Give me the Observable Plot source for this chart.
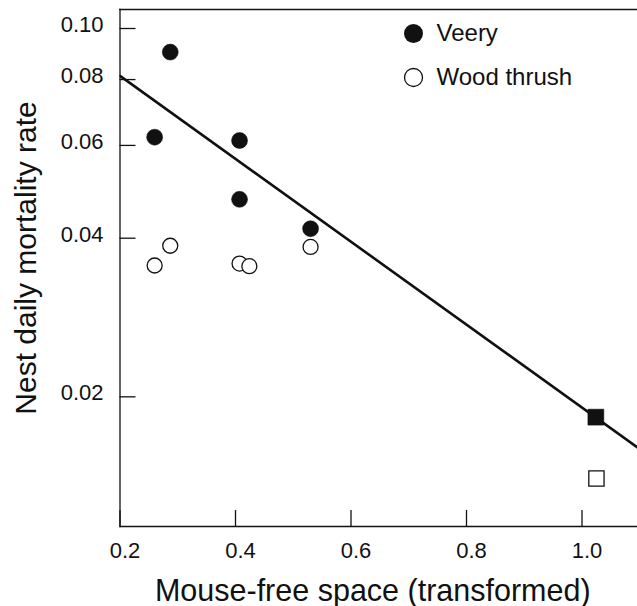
<!DOCTYPE html>
<html>
<head>
<meta charset="utf-8">
<script src="https://cdn.jsdelivr.net/npm/d3@7"></script>
<script src="https://cdn.jsdelivr.net/npm/@observablehq/plot@0.6"></script>
<style>
  html, body { margin: 0; padding: 0; background: #fff; }
  svg { display: block; }
</style>
</head>
<body>
<div id="chart"></div>
<script>
// ---- data ----
const veeryX  = [0.287, 0.260, 0.407, 0.407, 0.530];
const veeryY  = [0.0902, 0.0622, 0.0613, 0.0474, 0.0417];
const thrushX = [0.287, 0.260, 0.407, 0.424, 0.530];
const thrushY = [0.0387, 0.0355, 0.0358, 0.0354, 0.0385];
const veerySqX = [1.024];
const veerySqY = [0.0183];
const thrushSqX = [1.025];
const thrushSqY = [0.0140];
const fitX = [0.2, 1.1];
const fitY = [0.0813, 0.01592];
const xTicks = [0.2, 0.4, 0.6, 0.8, 1.0];
const yTicks = [0.02, 0.04, 0.06, 0.08, 0.10];
const legendLabels = ["Veery", "Wood thrush"];
const xTitle = "Mouse-free space (transformed)";
const yTitle = "Nest daily mortality rate";

const veery = veeryX.map((x, i) => ({x, y: veeryY[i]}));
const thrush = thrushX.map((x, i) => ({x, y: thrushY[i]}));
const veerySq = veerySqX.map((x, i) => ({x, y: veerySqY[i]}));
const thrushSq = thrushSqX.map((x, i) => ({x, y: thrushSqY[i]}));
const fit = fitX.map((x, i) => ({x, y: fitY[i]}));

const W = 637, H = 606;
const mL = 119.5, mT = 9, mB = 80, mR = 0;
const plotW = W - mL - mR, plotH = H - mT - mB;
const ink = "#111";

const chart = Plot.plot({
  width: W, height: H,
  marginLeft: mL, marginTop: mT, marginBottom: mB, marginRight: mR,
  style: {fontFamily: "'Liberation Sans', Arial, Helvetica, sans-serif", background: "#fff", color: ink},
  x: {domain: [0.2, 1.0961]},
  y: {type: "log", domain: [0.011349, 0.10866]},
  marks: [
    // frame: left, bottom, top
    Plot.frame({anchor: "left", stroke: ink, strokeWidth: 1.3}),
    Plot.frame({anchor: "bottom", stroke: ink, strokeWidth: 1.3}),
    Plot.frame({anchor: "top", stroke: ink, strokeWidth: 1.7}),
    // inward ticks
    Plot.tickY(yTicks, {y: d => d, insetRight: plotW - 16, stroke: ink, strokeWidth: 1.3}),
    Plot.tickX(xTicks, {x: d => d, insetTop: plotH - 16, stroke: ink, strokeWidth: 1.3}),
    // tick labels
    Plot.axisY({ticks: yTicks, tickSize: 0, tickPadding: 16.5, tickFormat: d3.format(".2f"), fontSize: 22, dy: -3.5, label: null}),
    Plot.axisX({ticks: xTicks, tickSize: 0, tickPadding: 15.5, tickFormat: d3.format(".1f"), fontSize: 22, dx: 5, label: null}),
    // axis titles
    Plot.text([xTitle], {frameAnchor: "bottom", dy: 74, dx: -6, textAnchor: "middle", lineAnchor: "bottom", fontSize: 30.5, fill: ink}),
    Plot.text([yTitle], {frameAnchor: "left", rotate: -90, dx: -84.5, dy: -10, textAnchor: "middle", lineAnchor: "bottom", fontSize: 30, fill: ink}),
    // regression line
    Plot.line(fit, {x: "x", y: "y", stroke: ink, strokeWidth: 2.6, clip: true}),
    // points
    Plot.dot(thrush, {x: "x", y: "y", r: 7.5, fill: "#fff", stroke: ink, strokeWidth: 1.3}),
    Plot.dot(veery, {x: "x", y: "y", r: 8, fill: ink, stroke: ink, strokeWidth: 0.5}),
    Plot.dot(veerySq, {x: "x", y: "y", symbol: "square", r: 9, fill: ink, stroke: ink, strokeWidth: 0.5}),
    Plot.dot(thrushSq, {x: "x", y: "y", symbol: "square", r: 8.6, fill: "#fff", stroke: ink, strokeWidth: 1.3}),
    // legend
    Plot.dot([legendLabels[0]], {frameAnchor: "top-left", dx: 413 - mL, dy: 33 - mT, r: 9.5, fill: ink}),
    Plot.dot([legendLabels[1]], {frameAnchor: "top-left", dx: 413 - mL, dy: 77 - mT, r: 9, fill: "#fff", stroke: ink, strokeWidth: 1.3}),
    Plot.text([legendLabels[0]], {text: d => d, frameAnchor: "top-left", dx: 436 - mL, dy: 33 - mT, textAnchor: "start", lineAnchor: "middle", fontSize: 24, fill: ink}),
    Plot.text([legendLabels[1]], {text: d => d, frameAnchor: "top-left", dx: 436 - mL, dy: 77 - mT, textAnchor: "start", lineAnchor: "middle", fontSize: 24, fill: ink})
  ]
});
document.getElementById("chart").appendChild(chart);
</script>
</body>
</html>
